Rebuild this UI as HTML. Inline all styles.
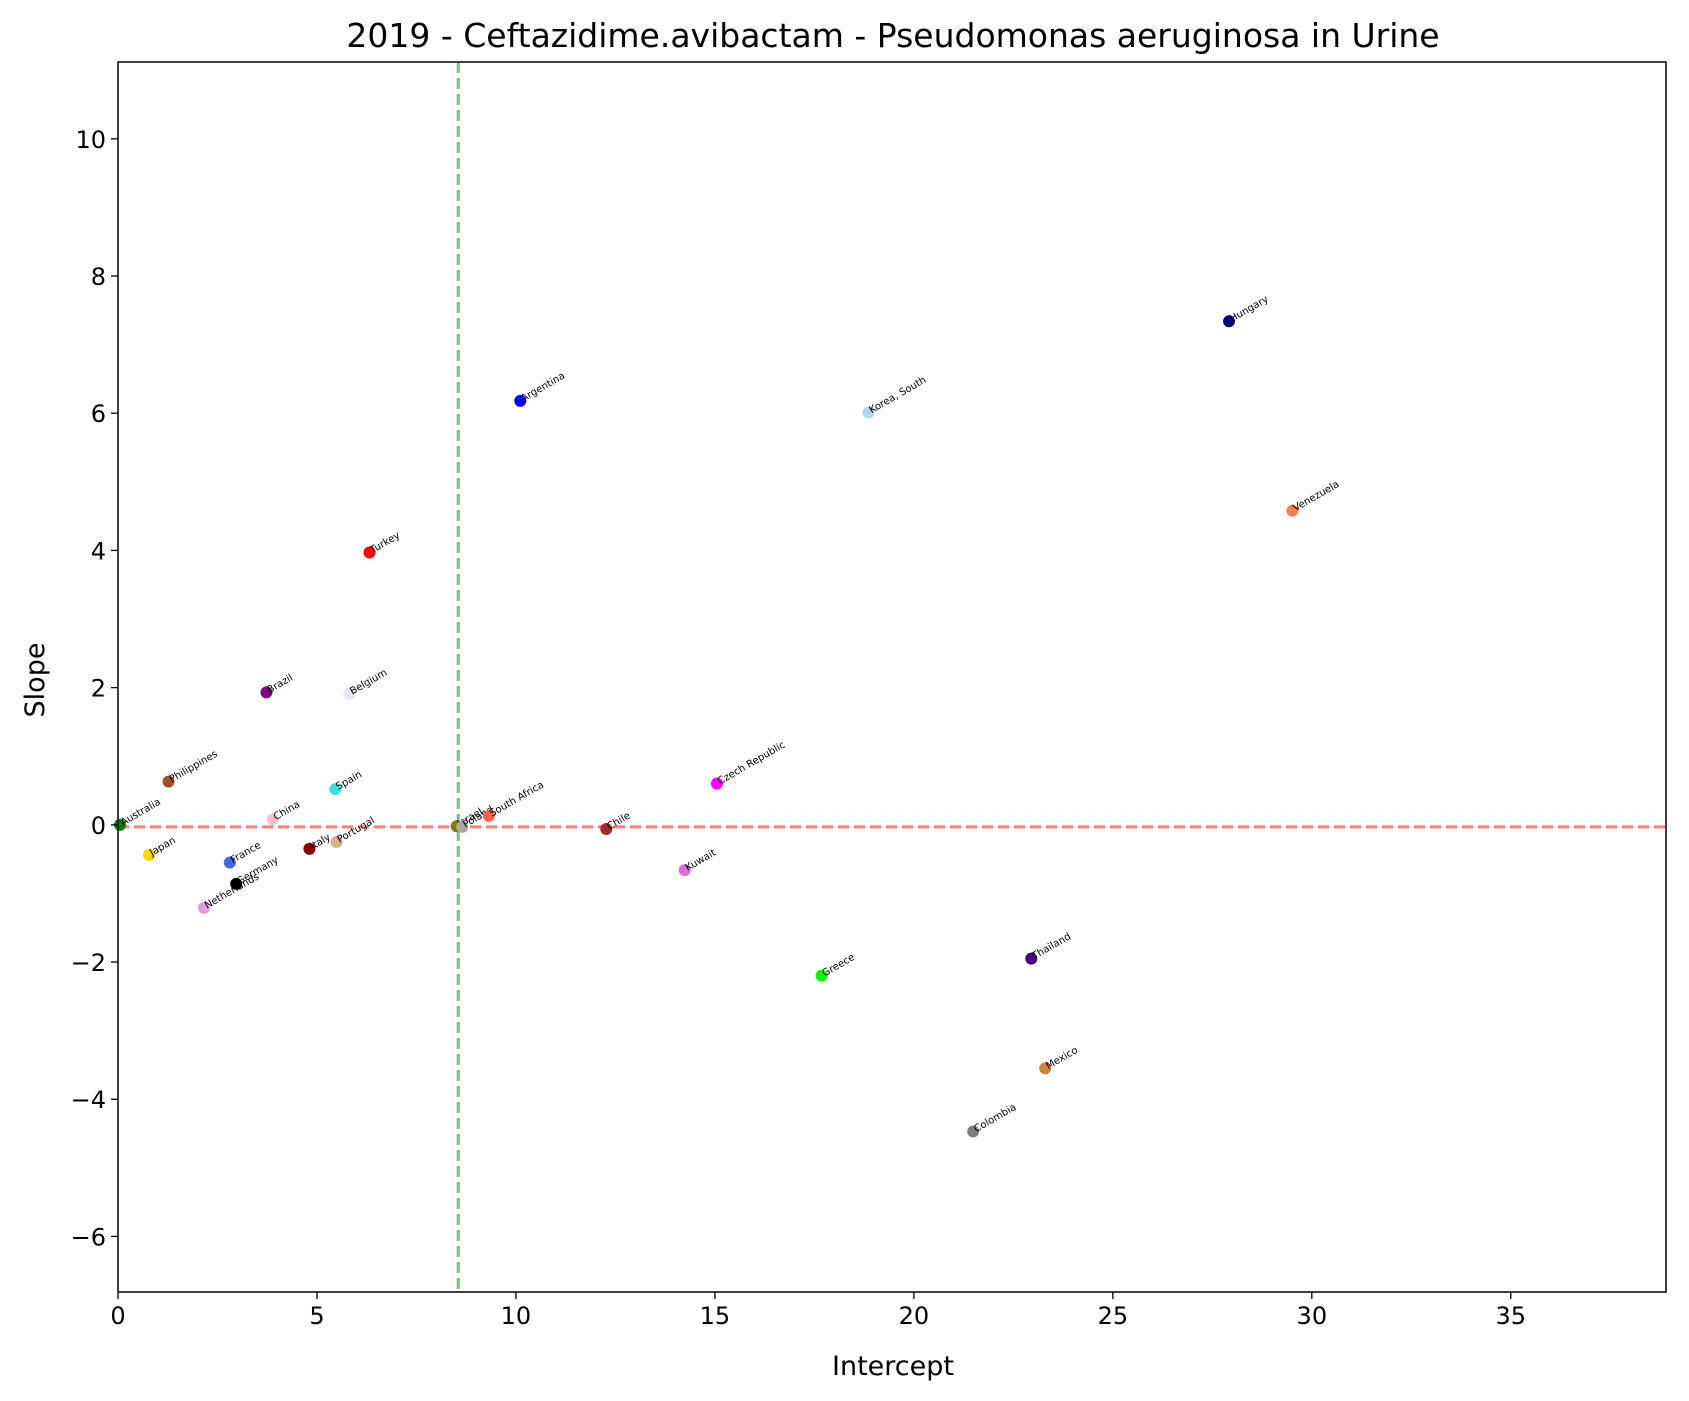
<!DOCTYPE html>
<html><head><meta charset="utf-8"><style>body{margin:0;background:#fff}svg{display:block;font-family:"DejaVu Sans","Liberation Sans",sans-serif}</style></head>
<body>
<svg id="chart" width="1689" height="1401" viewBox="0 0 1689 1401">
<rect width="1689" height="1401" fill="#fff"/>
<text x="893" y="47" font-size="33" text-anchor="middle">2019 - Ceftazidime.avibactam - Pseudomonas aeruginosa in Urine</text>
<g id="plot"></g>
<text x="893" y="1375" font-size="27" text-anchor="middle">Intercept</text>
<text x="44" y="680" font-size="27" text-anchor="middle" transform="rotate(-90 44 680)">Slope</text>
</svg>
<script>
const countries=["Australia","Japan","Philippines","Netherlands","France","Germany","Brazil","China","Italy","Spain","Portugal","Belgium","Turkey","Israel","Poland","South Africa","Argentina","Chile","Kuwait","Czech Republic","Greece","Korea, South","Colombia","Thailand","Mexico","Hungary","Venezuela"];
const intercepts=[0.05,0.78,1.27,2.16,2.81,2.97,3.73,3.89,4.81,5.46,5.49,5.81,6.32,8.51,8.65,9.32,10.11,12.27,14.24,15.05,17.68,18.86,21.49,22.95,23.3,27.92,29.51];
const slopes=[0,-0.44,0.63,-1.21,-0.55,-0.86,1.93,0.08,-0.35,0.52,-0.25,1.91,3.97,-0.02,-0.03,0.13,6.18,-0.06,-0.66,0.6,-2.2,6.01,-4.47,-1.95,-3.55,7.34,4.58];
const colors=["green","gold","sienna","plum","royalblue","black","purple","pink","darkred","turquoise","tan","lavender","red","olive","darkgray","tomato","blue","brown","orchid","magenta","lime","lightblue","gray","indigo","peru","navy","coral"];
const xTicks=[0,5,10,15,20,25,30,35];
const yTicks=[-6,-4,-2,0,2,4,6,8,10];
const vLine=8.55, hLine=-0.03;
const L=118,R=1666,T=62,B=1292,XMIN=0,XMAX=38.9,YMIN=-6.81,YMAX=11.12;
const sx=v=>L+(v-XMIN)/(XMAX-XMIN)*(R-L);
const sy=v=>B-(v-YMIN)/(YMAX-YMIN)*(B-T);
const NS="http://www.w3.org/2000/svg";
const g=document.getElementById('plot');
function mk(t,a,p){const e=document.createElementNS(NS,t);for(const k in a)e.setAttribute(k,a[k]);(p||g).appendChild(e);return e;}
let e;
e=mk('line',{x1:sx(vLine),x2:sx(vLine),y1:T,y2:B,stroke:'green','stroke-opacity':0.5,'stroke-width':3,'stroke-dasharray':'11,5'});


e=mk('line',{x1:L,x2:R,y1:sy(hLine),y2:sy(hLine),stroke:'red','stroke-opacity':0.5,'stroke-width':3,'stroke-dasharray':'11,5'});


countries.forEach((c,i)=>{
  const x=sx(intercepts[i]),y=sy(slopes[i]);
  const p=mk('circle',{cx:x,cy:y,r:6,fill:colors[i]});
  
  
  const t=mk('text',{x:x+3,y:y+1,'font-size':10,transform:`rotate(-30 ${x+3} ${y+1})`});
  t.textContent=c;
  
  
});
xTicks.forEach(v=>{
  const x=sx(v);
  mk('line',{x1:x,x2:x,y1:B,y2:B+7,stroke:'#000','stroke-width':1.3});
  const t=mk('text',{x:x,y:B+32,'font-size':24,'text-anchor':'middle'});
  t.textContent=v;
  
  
});
yTicks.forEach(v=>{
  const y=sy(v);
  mk('line',{x1:L-7,x2:L,y1:y,y2:y,stroke:'#000','stroke-width':1.3});
  const t=mk('text',{x:L-12,y:y+9,'font-size':24,'text-anchor':'end'});
  t.textContent=v<0?'\u2212'+(-v):v;
  
  
});
e=mk('rect',{x:L,y:T,width:R-L,height:B-T,fill:'none',stroke:'#000','stroke-width':1.5});


</script>
</body></html>
